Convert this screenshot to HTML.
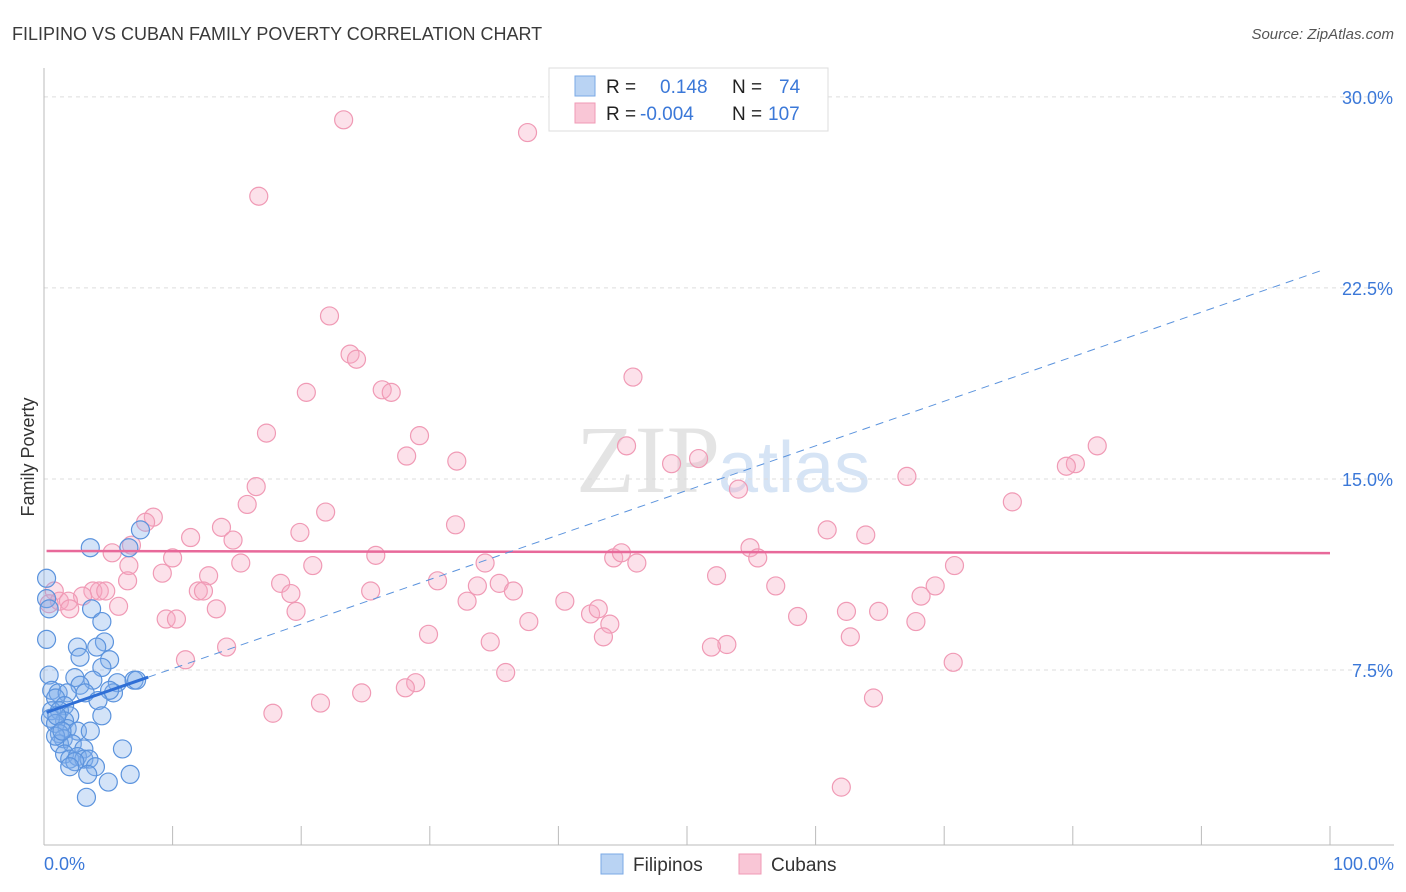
<!DOCTYPE html>
<html><head><meta charset="utf-8"><style>
body{margin:0;background:#fff;font-family:"Liberation Sans",sans-serif;}
#wrap{position:relative;width:1406px;height:892px;overflow:hidden;}
</style></head><body>
<div id="wrap">
<svg id="chart" width="1406" height="892" xmlns="http://www.w3.org/2000/svg">
<text x="12" y="40" font-size="18" fill="#3a3a3a">FILIPINO VS CUBAN FAMILY POVERTY CORRELATION CHART</text>
<text x="1394" y="39" font-size="15" fill="#555" text-anchor="end" font-style="italic">Source: ZipAtlas.com</text>
<text x="720" y="492" font-size="96" fill="#e4e4e4" text-anchor="end" font-family="Liberation Serif">ZIP</text>
<text x="718" y="492" font-size="72" fill="#d6e4f5">atlas</text>
<g id="grid"></g>
<g id="axes"></g>
<g id="pts"></g>
<g id="lines"></g>
<text transform="translate(34,457) rotate(-90)" font-size="18" fill="#333" text-anchor="middle">Family Poverty</text>
<text x="44" y="870" font-size="18" fill="#3b78d8">0.0%</text>
<text x="1394" y="870" font-size="18" fill="#3b78d8" text-anchor="end">100.0%</text>
<g>
<rect x="549" y="68" width="279" height="63" fill="#fff" stroke="#ddd"/>
<rect x="575" y="76" width="20" height="20" fill="#b9d3f3" stroke="#7aa8e6"/>
<rect x="575" y="103" width="20" height="20" fill="#f9c6d6" stroke="#f09ab5"/>
<text x="606" y="93" font-size="19" fill="#222">R =</text>
<text x="660" y="93" font-size="19" fill="#3b78d8">0.148</text>
<text x="732" y="93" font-size="19" fill="#222">N =</text>
<text x="779" y="93" font-size="19" fill="#3b78d8">74</text>
<text x="606" y="120" font-size="19" fill="#222">R =</text>
<text x="640" y="120" font-size="19" fill="#3b78d8">-0.004</text>
<text x="732" y="120" font-size="19" fill="#222">N =</text>
<text x="768" y="120" font-size="19" fill="#3b78d8">107</text>
</g>
<g>
<rect x="601" y="854" width="22" height="20" fill="#b9d3f3" stroke="#7aa8e6"/>
<text x="633" y="871" font-size="19" fill="#333">Filipinos</text>
<rect x="739" y="854" width="22" height="20" fill="#f9c6d6" stroke="#f09ab5"/>
<text x="771" y="871" font-size="19" fill="#333">Cubans</text>
</g>
</svg>
</div>
<script>
const yTicks=[7.5,15,22.5,30];
const yTickLabels=["7.5%","15.0%","22.5%","30.0%"];
const xTicks=[0,10,20,30,40,50,60,70,80,90,100];
const blueX=[0.2,0.2,0.4,0.2,3.6,6.6,7.5,3.7,4.5,2.6,4.7,4.1,2.8,5.1,4.5,0.4,2.4,3.8,7.0,7.2,5.7,2.8,0.6,1.1,1.8,0.9,3.2,5.4,5.1,4.2,1.6,0.6,1.2,2.0,1.6,4.5,0.5,0.9,1.8,1.2,2.6,3.6,1.5,1.2,2.2,3.1,6.1,1.6,2.0,2.6,3.1,3.5,2.4,2.0,4.0,3.4,6.7,5.0,3.3,0.9,1.0,1.4];
const blueY=[11.1,10.3,9.9,8.7,12.3,12.3,13.0,9.9,9.4,8.4,8.6,8.4,8.0,7.9,7.6,7.3,7.2,7.1,7.1,7.1,7.0,6.9,6.7,6.6,6.6,6.4,6.6,6.6,6.7,6.3,6.1,5.9,5.9,5.7,5.5,5.7,5.6,5.4,5.2,5.0,5.1,5.1,4.8,4.6,4.6,4.4,4.4,4.2,4.0,4.1,4.0,4.0,3.9,3.7,3.7,3.4,3.4,3.1,2.5,4.9,5.7,5.1];
const pinkX=[23.3,37.6,16.7,22.2,23.8,24.3,20.4,26.3,27.0,45.8,17.3,29.2,28.2,32.1,45.3,48.8,50.9,81.9,80.2,79.5,54.0,67.1,16.5,15.8,75.3,8.5,7.9,13.8,21.9,32.0,19.9,11.4,14.7,60.9,63.9,6.8,5.3,25.8,10.0,15.3,20.9,34.3,44.3,44.9,54.9,55.5,46.1,70.8,6.6,9.2,12.8,6.5,18.4,30.6,33.7,35.4,52.3,56.9,69.3,25.4,19.2,36.5,12.0,12.4,4.3,3.8,4.8,3.0,0.8,1.2,1.9,0.4,2.0,5.8,13.4,19.6,32.9,40.5,42.5,43.1,68.2,62.4,64.9,58.6,44.0,37.7,67.8,9.5,10.3,29.9,43.5,62.7,14.2,34.7,53.1,51.9,11.0,70.7,35.9,28.9,28.1,24.7,64.5,21.5,17.8,62.0];
const pinkY=[29.1,28.6,26.1,21.4,19.9,19.7,18.4,18.5,18.4,19.0,16.8,16.7,15.9,15.7,16.3,15.6,15.8,16.3,15.6,15.5,14.6,15.1,14.7,14.0,14.1,13.5,13.3,13.1,13.7,13.2,12.9,12.7,12.6,13.0,12.8,12.4,12.1,12.0,11.9,11.7,11.6,11.7,11.9,12.1,12.3,11.9,11.7,11.6,11.6,11.3,11.2,11.0,10.9,11.0,10.8,10.9,11.2,10.8,10.8,10.6,10.5,10.6,10.6,10.6,10.6,10.6,10.6,10.4,10.6,10.2,10.2,10.1,9.9,10.0,9.9,9.8,10.2,10.2,9.7,9.9,10.4,9.8,9.8,9.6,9.3,9.4,9.4,9.5,9.5,8.9,8.8,8.8,8.4,8.6,8.5,8.4,7.9,7.8,7.4,7.0,6.8,6.6,6.4,6.2,5.8,2.9];
const blueFit=[5.8,0.175];
const pinkFit=[12.17,-0.0008];
const blueSolidEnd=8.1, blueDashEnd=99.6;

const X=v=>44+v*12.86;
const Y=v=>861-v*25.47;
const NS="http://www.w3.org/2000/svg";
function mk(tag,attrs,parent){const e=document.createElementNS(NS,tag);for(const k in attrs)e.setAttribute(k,attrs[k]);parent.appendChild(e);return e;}
const grid=document.getElementById('grid'),axes=document.getElementById('axes'),pts=document.getElementById('pts'),lines=document.getElementById('lines');
yTicks.forEach((t,i)=>{
  const l=mk('line',{x1:44,x2:1394,y1:Y(t),y2:Y(t),stroke:'#ddd','stroke-dasharray':'4,4'},grid);
  
  
  const tx=mk('text',{x:1393,y:Y(t)+7,'font-size':18,fill:'#3b78d8','text-anchor':'end'},grid);
  tx.textContent=yTickLabels[i];
  
  
});
const ya=mk('line',{x1:44,x2:44,y1:68,y2:845,stroke:'#bbb'},axes);


const xa=mk('line',{x1:44,x2:1394,y1:845,y2:845,stroke:'#bbb'},axes);


xTicks.forEach(t=>{
  const l=mk('line',{x1:X(t),x2:X(t),y1:826,y2:845,stroke:'#bbb'},axes);
  
  
});
pinkX.forEach((x,i)=>{
  const c=mk('circle',{cx:X(x),cy:Y(pinkY[i]),r:9,fill:'rgba(246,170,196,0.35)',stroke:'#f09ab5','stroke-width':1.2},pts);
  
  
});
blueX.forEach((x,i)=>{
  const c=mk('circle',{cx:X(x),cy:Y(blueY[i]),r:9,fill:'rgba(130,175,235,0.35)',stroke:'#5b93dd','stroke-width':1.2},pts);
  
  
});
const bf=x=>blueFit[0]+blueFit[1]*x, pf=x=>pinkFit[0]+pinkFit[1]*x;
const pl=mk('line',{x1:X(0.2),y1:Y(pf(0.2)),x2:X(100),y2:Y(pf(100)),stroke:'#e8699a','stroke-width':2.5},lines);


const bd=mk('line',{x1:X(blueSolidEnd),y1:Y(bf(blueSolidEnd)),x2:X(blueDashEnd),y2:Y(bf(blueDashEnd)),stroke:'#5b93dd','stroke-width':1,'stroke-dasharray':'8,6'},lines);


const bs=mk('line',{x1:X(0.2),y1:Y(bf(0.2)),x2:X(blueSolidEnd),y2:Y(bf(blueSolidEnd)),stroke:'#2f6fd6','stroke-width':3},lines);


</script>
</body></html>
